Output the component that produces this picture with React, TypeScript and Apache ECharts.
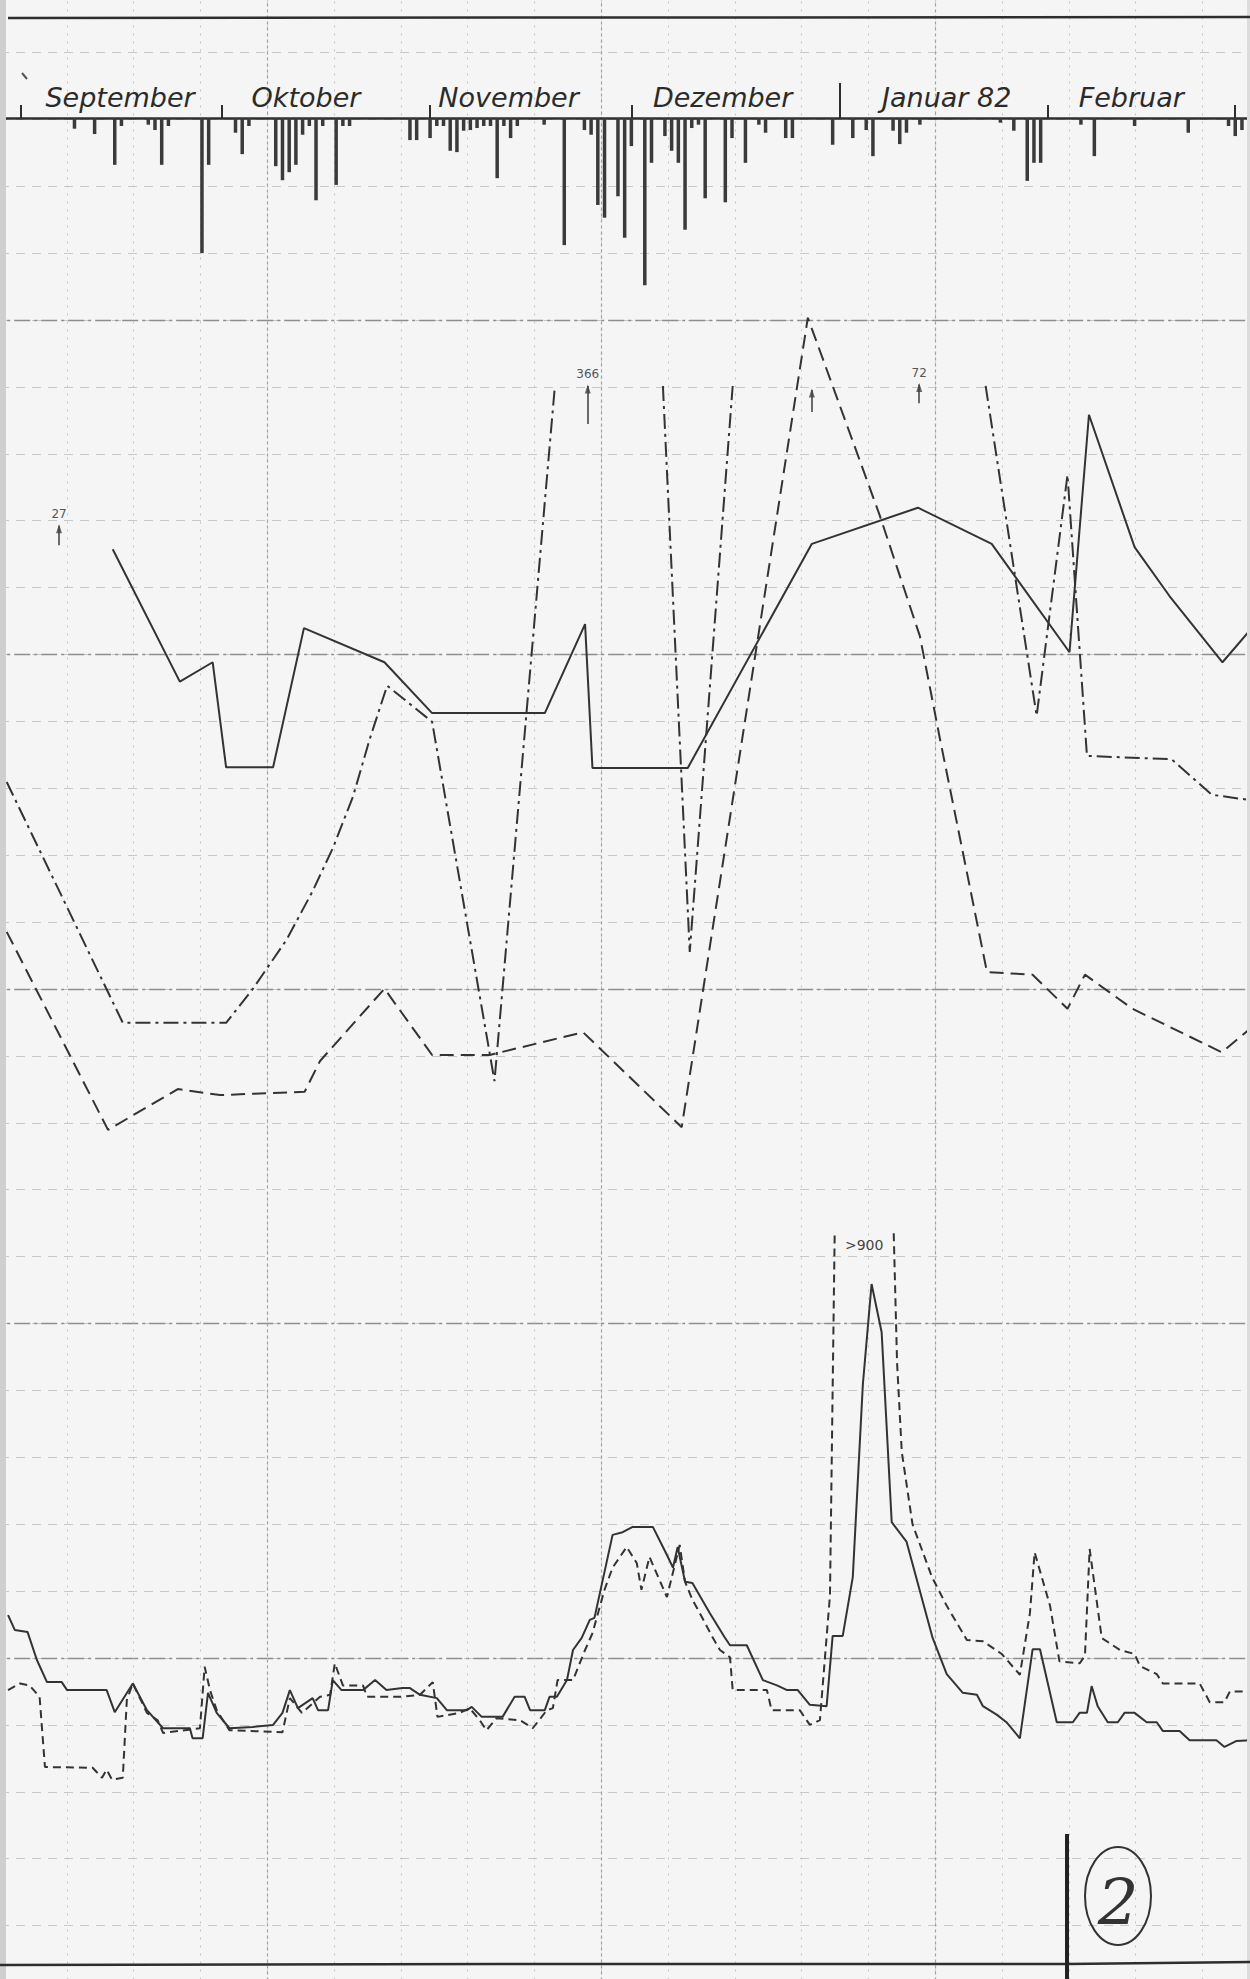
import React, { useEffect, useRef } from "react";
import * as echarts from "echarts";

// Time axis: days counted from 1 September (day 0)
const DAY_MIN = -3.1;
const DAY_MAX = 183.2;

const monthTickDays = [0, 30, 61, 91, 122, 153, 181];
const monthLabelDays = [14.8, 42.5, 72.7, 104.6, 138, 165.5];
const monthLabels = ["September", "Oktober", "November", "Dezember", "Januar 82", "Februar"];

// Daily precipitation (mm), bars hanging from the date line
const rainDays = [8, 11, 14, 15, 19, 20, 21, 22, 27, 28, 32, 33, 34, 38, 39, 40, 41, 42, 43, 44, 45, 47, 48, 49, 58, 59, 61, 62, 63, 64, 65, 66, 67, 68, 69, 70, 71, 72, 73, 74, 78, 81, 84, 85, 86, 87, 89, 90, 91, 93, 94, 96, 97, 98, 99, 100, 101, 102, 105, 106, 108, 110, 111, 114, 115, 121, 124, 126, 127, 130, 131, 132, 134, 146, 148, 150, 151, 152, 158, 160, 166, 174, 180, 181, 182];
const rainMm = [1.6, 2.4, 7.0, 1.2, 1.0, 1.8, 7.0, 1.2, 20.2, 7.0, 2.2, 5.4, 1.2, 7.2, 9.3, 8.1, 7.0, 2.5, 1.2, 12.3, 1.2, 10.0, 1.2, 1.2, 3.3, 3.3, 3.0, 1.2, 1.2, 4.9, 5.1, 1.9, 1.8, 1.5, 1.2, 1.2, 9.0, 1.2, 3.0, 1.2, 1.0, 19.0, 1.8, 2.5, 13.0, 14.9, 11.7, 17.9, 4.2, 25.0, 6.7, 2.7, 4.9, 6.7, 16.7, 1.5, 1.0, 12.0, 12.6, 3.0, 6.7, 1.0, 2.2, 3.0, 3.0, 4.0, 3.0, 1.8, 5.7, 1.9, 3.9, 2.2, 1.0, 0.7, 1.9, 9.4, 6.7, 6.7, 1.0, 5.7, 1.2, 2.2, 1.2, 2.7, 1.8];

// Middle panel: three sampled series [day, value]
const midSolid = [[13.7, 105.8], [23.7, 86.0], [28.6, 88.9], [30.6, 73.2], [37.6, 73.2], [42.2, 94.0], [54.2, 88.9], [61.3, 81.3], [78.1, 81.3], [84.1, 94.6], [85.2, 73.1], [99.4, 73.1], [117.9, 106.6], [133.7, 112.0], [144.7, 106.6], [156.3, 90.4], [159.2, 125.9], [166.0, 106.1], [171.2, 98.8], [179.1, 88.9], [183.2, 93.7]];
const midDashDot = [[-2.1, 71.0], [15.2, 35.0], [30.6, 35.0], [34.6, 40.1], [39.6, 47.4], [43.5, 54.7], [46.5, 61.1], [49.5, 68.8], [52.0, 77.4], [54.6, 85.4], [61.3, 80.0], [70.6, 26.3], [79.6, 130.2], [84.5, null], [95.7, 130.2], [99.7, 45.6], [106.1, 130.2], [125.0, null], [143.8, 130.2], [151.4, 80.9], [156.0, 116.9], [158.9, 74.9], [171.5, 74.4], [177.5, 69.1], [183.2, 68.3]];
const midDashed = [[-2.1, 48.6], [13.0, 19.0], [23.4, 25.1], [29.7, 24.2], [42.3, 24.7], [44.6, 29.3], [54.2, 40.1], [61.3, 30.2], [69.9, 30.2], [83.8, 33.6], [98.5, 19.4], [117.3, 140.4], [128.0, 110.9], [134.0, 92.8], [137.0, 77.4], [144.0, 42.6], [150.8, 42.2], [156.0, 37.1], [158.6, 42.2], [165.7, 37.1], [179.0, 30.6], [183.2, 34.1]];

// Off-scale notes in the middle panel: day, arrow foot, arrow tip, text
const noteDays = [5.7, 84.5, 133.9, 117.9];
const noteFrom = [106.4, 124.5, 127.6, 126.3];
const noteTo = [109.3, 130.2, 130.4, 129.6];
const noteText = ["27", "366", "72", ""];

// Bottom panel: two daily series [day, value]
const lowSolid = [[-1.9, 364], [-0.9, 342], [1.0, 339], [2.4, 297], [3.9, 264], [6.1, 264], [6.9, 252], [12.8, 252], [14.0, 219], [16.7, 262], [18.8, 222], [21.2, 195], [25.2, 195], [25.6, 180], [27.1, 180], [27.9, 248], [29.2, 218], [31.1, 195], [34.6, 197], [37.6, 200], [39.0, 218], [40.1, 252], [41.3, 225], [43.5, 240], [44.3, 222], [45.8, 222], [46.5, 267], [47.8, 252], [51.0, 252], [52.8, 267], [54.5, 252], [56.9, 255], [58.0, 255], [59.5, 245], [62.0, 240], [63.5, 222], [66.5, 222], [67.2, 227], [68.7, 212], [71.8, 212], [73.6, 242], [75.1, 242], [75.9, 222], [78.1, 222], [78.8, 242], [79.9, 242], [81.4, 267], [82.3, 312], [83.6, 330], [84.8, 357], [85.5, 360], [88.2, 484], [89.7, 488], [91.2, 496], [94.2, 496], [96.3, 454], [97.2, 435], [97.9, 466], [99.0, 414], [100.1, 412], [102.7, 367], [104.9, 331], [105.7, 319], [108.2, 319], [110.6, 267], [112.7, 259], [114.2, 252], [115.8, 252], [117.6, 230], [120.1, 228], [121.0, 333], [122.5, 333], [124.0, 421], [125.5, 709], [126.8, 859], [128.3, 787], [129.8, 503], [132.0, 474], [135.9, 330], [138.0, 276], [140.4, 248], [142.5, 245], [143.4, 228], [145.5, 215], [146.9, 204], [148.9, 180], [150.8, 313], [151.9, 313], [154.4, 204], [156.8, 204], [157.8, 218], [158.9, 218], [159.6, 258], [160.5, 228], [162.0, 204], [163.5, 204], [164.5, 218], [166.0, 218], [167.8, 204], [169.3, 204], [170.2, 191], [172.7, 191], [174.2, 177], [178.2, 177], [179.4, 167], [181.2, 176], [183.2, 177]];
const lowDashed = [[-1.9, 252], [-0.1, 262], [1.3, 259], [2.8, 242], [3.6, 137], [10.7, 136], [12.1, 121], [12.8, 133], [13.6, 118], [15.2, 121], [15.8, 237], [16.7, 262], [18.8, 218], [20.4, 207], [21.2, 188], [26.7, 195], [27.4, 287], [28.2, 252], [29.2, 222], [31.1, 192], [39.0, 189], [40.1, 240], [41.9, 218], [44.6, 242], [46.1, 245], [46.8, 292], [48.0, 259], [51.0, 259], [51.6, 242], [56.5, 242], [59.5, 245], [61.4, 264], [62.1, 212], [65.4, 218], [66.9, 225], [68.4, 207], [69.4, 192], [70.9, 210], [74.4, 207], [76.3, 195], [78.4, 222], [79.3, 225], [80.0, 267], [82.3, 267], [84.1, 312], [85.2, 337], [87.0, 402], [88.2, 435], [90.3, 466], [91.8, 442], [92.5, 402], [93.7, 451], [96.3, 391], [98.2, 469], [99.0, 414], [100.1, 387], [101.2, 367], [103.1, 331], [104.2, 312], [105.7, 301], [106.1, 252], [111.2, 252], [111.9, 222], [116.1, 222], [117.6, 200], [119.1, 207], [120.6, 394], [121.3, 935], [125.7, null], [130.1, 935], [130.6, 741], [131.3, 608], [132.9, 500], [135.8, 421], [138.0, 378], [141.0, 327], [143.4, 325], [146.2, 306], [148.9, 275], [150.4, 367], [151.1, 458], [153.4, 378], [154.8, 295], [157.8, 292], [158.6, 303], [159.3, 463], [161.1, 330], [163.8, 312], [166.0, 306], [166.8, 288], [169.3, 276], [170.2, 262], [175.7, 262], [177.2, 234], [179.4, 234], [180.2, 250], [183.2, 250]];

const INK = "#333333";
const CELL_X = 66.8;
const CELL_Y = 66.9;

const hiddenAxis = (gridIndex: number, min: number, max: number, extra: any = {}) => ({
  type: "value",
  gridIndex,
  min,
  max,
  show: false,
  ...extra,
});

const paperAxis = (gridIndex: number, max: number, lineStyle: any) => ({
  type: "value",
  gridIndex,
  min: 0,
  max,
  interval: 1,
  axisLine: { show: false },
  axisTick: { show: false },
  axisLabel: { show: false },
  splitLine: { show: true, lineStyle },
});

const lineSeries = (name: string, xi: number, yi: number, data: any[], type: any, extra: any = {}) => ({
  name,
  type: "line",
  xAxisIndex: xi,
  yAxisIndex: yi,
  data,
  showSymbol: false,
  symbol: "none",
  silent: true,
  connectNulls: false,
  lineStyle: { color: INK, width: 2, type },
  z: 5,
  ...extra,
});

function buildOption() {
  const gridBase = { outerBoundsMode: "none", containLabel: false, show: false };
  return {
    animation: false,
    backgroundColor: "#f5f5f5",
    textStyle: { fontFamily: "DejaVu Sans" },
    grid: [
      { ...gridBase, left: 0, top: -14.5, width: CELL_X * 20, height: CELL_Y * 30 },
      { ...gridBase, left: -CELL_X * 1, top: -14.5, width: CELL_X * 20, height: CELL_Y * 30 },
      { ...gridBase, left: 0, top: 118, width: 1250, height: CELL_Y * 3 },
      { ...gridBase, left: 0, top: 253.5, width: 1250, height: CELL_Y * 15 },
      { ...gridBase, left: 0, top: 1256.6, width: 1250, height: CELL_Y * 9 },
    ],
    xAxis: [
      paperAxis(0, 20, { color: "#c4c4c4", width: 1, type: [2, 6] }),
      paperAxis(1, 4, { color: "#a2a2a2", width: 1.2, type: [3, 3] }),
      {
        type: "value",
        gridIndex: 2,
        min: DAY_MIN,
        max: DAY_MAX,
        position: "top",
        axisLine: { show: true, onZero: false, lineStyle: { color: "#2e2e2e", width: 2.5 } },
        axisTick: {
          show: true,
          customValues: monthTickDays,
          length: 13,
          inside: false,
          lineStyle: { color: "#2e2e2e", width: 2 },
        },
        axisLabel: {
          show: true,
          customValues: monthLabelDays,
          formatter: (v: number) => {
            const i = monthLabelDays.indexOf(v);
            return i >= 0 ? monthLabels[i] : "";
          },
          margin: 7,
          fontFamily: "DejaVu Sans",
          fontStyle: "italic",
          fontSize: 27,
          color: "#2b2b2b",
        },
        splitLine: { show: false },
      },
      {
        type: "value",
        gridIndex: 2,
        min: DAY_MIN,
        max: DAY_MAX,
        position: "top",
        axisLine: { show: false },
        axisTick: {
          show: true,
          customValues: [122],
          length: 35,
          inside: false,
          lineStyle: { color: "#2e2e2e", width: 2 },
        },
        axisLabel: { show: false },
        splitLine: { show: false },
      },
      hiddenAxis(3, DAY_MIN, DAY_MAX),
      hiddenAxis(4, DAY_MIN, DAY_MAX),
    ],
    yAxis: [
      paperAxis(0, 30, { color: "#c8c8c8", width: 1, type: [9, 7] }),
      paperAxis(1, 6, { color: "#8e8e8e", width: 1.3, type: [16, 4, 3, 4] }),
      hiddenAxis(2, 0, 30, { inverse: true }),
      hiddenAxis(3, 0, 150),
      hiddenAxis(4, 0, 900),
    ],
    series: [
      {
        name: "Niederschlag",
        type: "bar",
        xAxisIndex: 2,
        yAxisIndex: 2,
        data: rainDays.map((d, i) => [d, rainMm[i]]),
        barWidth: 3.5,
        silent: true,
        itemStyle: { color: "#3a3a3a" },
        z: 5,
      },
      lineSeries("mitte-voll", 4, 3, midSolid, "solid"),
      lineSeries("mitte-strichpunkt", 4, 3, midDashDot, [15, 5, 3, 5]),
      lineSeries("mitte-gestrichelt", 4, 3, midDashed, [14, 7]),
      // arrow stems with their notes
      {
        name: "vermerke",
        type: "line",
        xAxisIndex: 4,
        yAxisIndex: 3,
        data: [],
        silent: true,
        markLine: {
          silent: true,
          symbol: ["none", "none"],
          lineStyle: { color: "#484848", width: 1.6, type: "solid" },
          label: {
            show: true,
            position: "end",
            formatter: "{b}",
            fontSize: 12,
            color: "#555",
            distance: 6,
            fontFamily: "DejaVu Sans",
          },
          data: noteDays.map((d, i) => [
            { name: noteText[i], coord: [d, noteFrom[i]] },
            { coord: [d, noteTo[i]] },
          ]),
        },
      },
      // arrow heads
      {
        name: "pfeilspitzen",
        type: "scatter",
        xAxisIndex: 4,
        yAxisIndex: 3,
        silent: true,
        symbol: "triangle",
        symbolSize: [6, 9],
        symbolOffset: [0, 3],
        itemStyle: { color: "#444" },
        data: noteDays.map((d, i) => [d, noteTo[i]]),
        z: 6,
      },
      lineSeries("unten-voll", 5, 4, lowSolid, "solid"),
      lineSeries("unten-gestrichelt", 5, 4, lowDashed, [8, 5], {
        clip: false,
        markPoint: {
          silent: true,
          symbol: "rect",
          symbolSize: 1,
          itemStyle: { color: "rgba(0,0,0,0)" },
          label: {
            show: true,
            position: "top",
            distance: 4,
            formatter: ">900",
            fontSize: 14,
            color: "#444",
            fontFamily: "DejaVu Sans",
          },
          data: [{ coord: [125.7, 900] }],
        },
      }),
    ],
    graphic: [
      // scanned sheet edges
      { type: "rect", z: 50, shape: { x: 0, y: 0, width: 6, height: 1979 }, style: { fill: "#cfcfcf" } },
      { type: "rect", z: 50, shape: { x: 1247, y: 0, width: 3, height: 1979 }, style: { fill: "#dcdcdc" } },
      // frame lines
      { type: "line", z: 50, shape: { x1: 8, y1: 18, x2: 1250, y2: 17 }, style: { stroke: "#2e2e2e", lineWidth: 2.5 } },
      { type: "line", z: 50, shape: { x1: 22, y1: 73, x2: 27, y2: 79 }, style: { stroke: "#555", lineWidth: 2 } },
      {
        type: "polyline",
        z: 50,
        shape: { points: [[0, 1965], [500, 1964], [1067, 1964], [1250, 1962]] },
        style: { stroke: "#2e2e2e", lineWidth: 2.5, fill: "none" },
      },
      { type: "line", z: 50, shape: { x1: 1067, y1: 1834, x2: 1067, y2: 1979 }, style: { stroke: "#222", lineWidth: 4 } },
      // sheet number
      {
        type: "ellipse",
        z: 50,
        shape: { cx: 1118, cy: 1896, rx: 33, ry: 49 },
        style: { stroke: "#333", lineWidth: 2, fill: "transparent" },
      },
      {
        type: "text",
        z: 50,
        x: 1118,
        y: 1903,
        style: {
          text: "2",
          fontSize: 64,
          fontFamily: "DejaVu Serif",
          fontStyle: "italic",
          fill: "#333",
          align: "center",
          verticalAlign: "middle",
        },
      },
    ],
  };
}

export default function App() {
  const ref = useRef<HTMLDivElement>(null);
  useEffect(() => {
    if (!ref.current) return;
    const chart = echarts.init(ref.current, null, { renderer: "svg" });
    chart.setOption(buildOption() as any);
    return () => chart.dispose();
  }, []);
  return (
    <div
      ref={ref}
      style={{ position: "absolute", left: 0, top: 0, width: 1250, height: 1979 }}
    />
  );
}
